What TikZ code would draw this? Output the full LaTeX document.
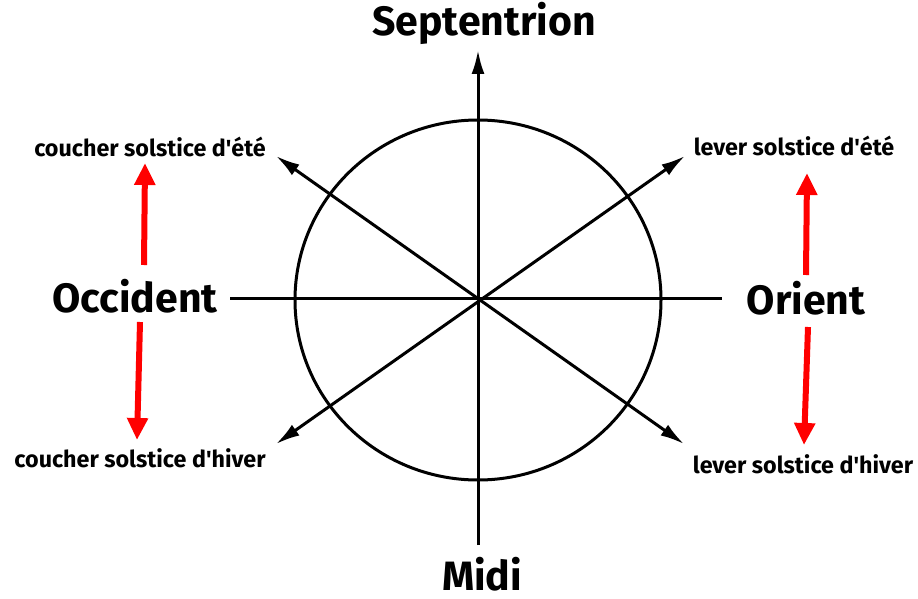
\documentclass[tikz,border=0pt]{standalone}
\usepackage{fontspec}
\setmainfont{Fira Sans}
\usetikzlibrary{arrows.meta}
\definecolor{SunRed}{RGB}{255,0,0}
\newcommand{\apos}{\textquotesingle}
\begin{document}
\begin{tikzpicture}[x=1pt,y=-1pt,
  axis/.style={line width=3pt},
  ray/.style={axis,{Latex[length=24pt,width=13pt]}-{Latex[length=24pt,width=13pt]}},
  drift/.style={line width=6pt,SunRed,-{Triangle[length=22pt,width=20pt]}},
  cardinal/.style={anchor=base,inner sep=0pt,font=\fontsize{41}{44}\selectfont\bfseries},
  solstice/.style={anchor=base,inner sep=0pt,font=\fontsize{23.3}{26}\selectfont\bfseries}]
\useasboundingbox (0,0) rectangle (918,599);
% rose des vents
\coordinate (O) at (478,300);
\draw[axis] (O) ellipse [x radius=183, y radius=180];
\coordinate (N) at (478,50);
\coordinate (S) at (478,545);
\coordinate (W) at (230,298);
\coordinate (E) at (722,298);
\coordinate (NW) at (276,156);
\coordinate (SE) at (684,444);
\coordinate (SW) at (276,444);
\coordinate (NE) at (685,156);
\draw[axis,-{Latex[length=24pt,width=13pt]}] (S) -- (N);
\draw[axis] (W) -- (E);
\draw[ray] (NW) -- (SE);
\draw[ray] (SW) -- (NE);
% points cardinaux
\node[cardinal] (sept) at (484,36) {Septentrion};
\node[cardinal] (midi) at (482,590) {Midi};
\node[cardinal] (occ) at (135,312) {Occident};
\node[cardinal] (ori) at (806,314) {Orient};
% solstices
\node[solstice] (cete) at (150,157) {coucher solstice d\apos été};
\node[solstice] (chiv) at (140,467) {coucher solstice d\apos hiver};
\node[solstice] (lete) at (794,156) {lever solstice d\apos été};
\node[solstice] (lhiv) at (803,473) {lever solstice d\apos hiver};
% glissement saisonnier
\coordinate (occU) at (144,265);
\coordinate (occD) at (140,322);
\coordinate (oriU) at (806,275);
\coordinate (oriD) at (808,327);
\coordinate (ceteT) at (145,163);
\coordinate (chivT) at (137,440);
\coordinate (leteT) at (807,173);
\coordinate (lhivT) at (804,445);
\draw[drift] (occU) -- (ceteT);
\draw[drift] (occD) -- (chivT);
\draw[drift] (oriU) -- (leteT);
\draw[drift] (oriD) -- (lhivT);
\end{tikzpicture}
\end{document}
